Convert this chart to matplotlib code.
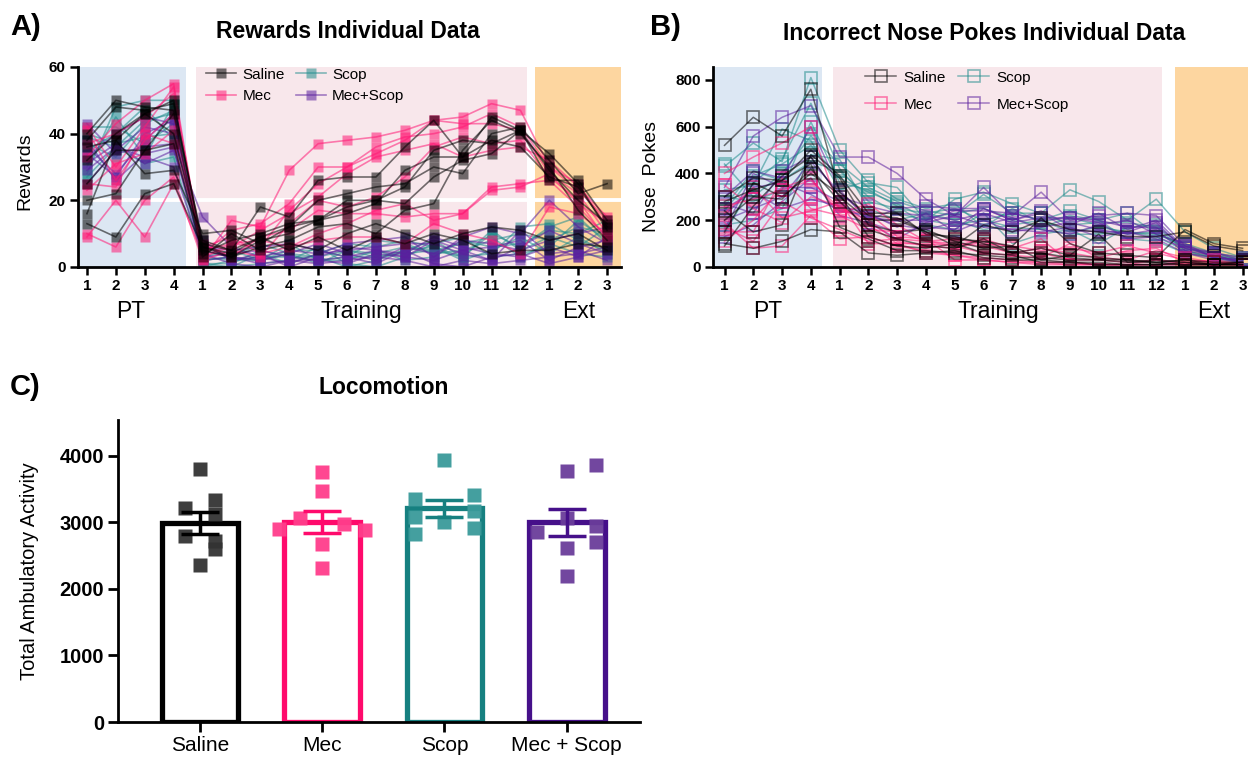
import numpy as np
import matplotlib
matplotlib.use("Agg")
import matplotlib.pyplot as plt
from matplotlib import transforms

plt.rcParams['font.family'] = ['Liberation Sans', 'DejaVu Sans']

# ---------------- DATA ----------------
groups = ["Saline", "Mec", "Scop", "Mec+Scop"]
session_labels = ["1", "2", "3", "4",
                  "1", "2", "3", "4", "5", "6", "7", "8", "9", "10", "11", "12",
                  "1", "2", "3"]
phase_names = ["PT", "Training", "Ext"]

rewards_saline = [
    [40, 50, 48, 47, 8, 5, 18, 15, 26, 27, 27, 36, 44, 33, 45, 41, 34, 25, 11],
    [13, 9, 22, 25, 6, 3, 8, 10, 14, 20, 20, 24, 35, 38, 37, 41, 29, 20, 13],
    [16, 38, 28, 29, 10, 11, 7, 12, 20, 22, 24, 25, 30, 28, 40, 42, 32, 22, 25],
    [20, 22, 35, 37, 4, 8, 10, 13, 14, 18, 20, 19, 27, 32, 34, 41, 26, 26, 14],
    [38, 48, 47, 49, 7, 5, 9, 5, 9, 5, 9, 7, 10, 8, 4, 5, 5, 7, 6],
    [32, 40, 46, 50, 5, 3, 6, 8, 12, 13, 10, 17, 19, 35, 44, 40, 30, 17, 8],
    [25, 35, 35, 46, 3, 10, 5, 7, 5, 10, 13, 10, 7, 10, 12, 11, 8, 10, 5],
    [36, 38, 46, 40, 6, 4, 9, 12, 14, 16, 19, 29, 33, 33, 38, 36, 27, 24, 12],
]
rewards_mec = [
    [10, 6, 20, 27, 2, 14, 12, 29, 37, 38, 39, 41, 44, 45, 49, 47, 30, 23, 14],
    [9, 20, 9, 25, 4, 11, 13, 19, 30, 30, 34, 38, 44, 43, 43, 41, 28, 22, 10],
    [33, 43, 50, 55, 3, 7, 6, 17, 25, 30, 36, 39, 40, 42, 46, 42, 30, 25, 12],
    [42, 30, 42, 54, 2, 5, 3, 13, 20, 18, 21, 27, 36, 39, 37, 38, 27, 20, 8],
    [25, 24, 40, 37, 7, 3, 9, 11, 17, 16, 16, 15, 16, 16, 24, 25, 26, 18, 9],
    [37, 40, 45, 52, 5, 7, 8, 6, 10, 13, 17, 19, 14, 16, 23, 24, 28, 19, 13],
    [23, 31, 34, 41, 6, 9, 4, 6, 8, 9, 9, 7, 13, 10, 8, 4, 18, 16, 10],
    [41, 26, 38, 46, 3, 6, 11, 16, 21, 28, 33, 35, 37, 33, 35, 36, 32, 24, 15],
]
rewards_scop = [
    [28, 48, 50, 50, 0, 2, 3, 3, 3, 0, 2, 5, 6, 3, 10, 6, 12, 15, 7],
    [39, 36, 31, 33, 2, 3, 2, 5, 5, 3, 8, 7, 4, 5, 8, 10, 8, 12, 10],
    [42, 42, 37, 43, 1, 1, 5, 3, 2, 3, 3, 5, 8, 3, 4, 12, 13, 8, 5],
    [35, 40, 48, 38, 3, 5, 2, 7, 2, 2, 5, 2, 3, 8, 6, 7, 11, 10, 14],
    [27, 36, 44, 46, 0, 0, 1, 2, 6, 1, 0, 3, 7, 9, 3, 4, 6, 14, 8],
    [30, 45, 33, 49, 2, 3, 7, 4, 3, 5, 3, 4, 5, 3, 11, 5, 9, 6, 12],
    [37, 33, 43, 47, 1, 0, 4, 1, 4, 7, 6, 8, 6, 2, 5, 9, 4, 9, 4],
    [40, 37, 39, 40, 3, 2, 2, 4, 1, 5, 4, 6, 5, 7, 9, 3, 7, 4, 3],
]
rewards_mecscop = [
    [43, 34, 36, 37, 15, 6, 3, 5, 4, 7, 8, 9, 3, 9, 12, 10, 20, 12, 7],
    [34, 27, 40, 44, 7, 2, 3, 1, 4, 5, 6, 7, 7, 4, 2, 11, 4, 5, 2],
    [29, 36, 33, 30, 4, 1, 0, 2, 2, 3, 1, 5, 1, 0, 3, 4, 1, 3, 5],
    [33, 40, 45, 43, 5, 3, 2, 4, 7, 4, 2, 6, 4, 8, 7, 5, 8, 10, 12],
    [38, 26, 34, 36, 3, 4, 5, 3, 2, 1, 4, 3, 8, 5, 2, 6, 11, 7, 4],
    [25, 35, 42, 40, 6, 5, 6, 7, 5, 3, 5, 4, 9, 6, 4, 3, 6, 3, 9],
    [36, 28, 38, 46, 2, 3, 1, 2, 1, 2, 3, 2, 0, 2, 1, 2, 3, 4, 6],
    [31, 37, 31, 35, 8, 2, 4, 0, 3, 6, 5, 3, 2, 5, 6, 8, 2, 6, 8],
]

pokes_saline = [
    [520, 640, 560, 760, 320, 220, 210, 150, 120, 110, 90, 210, 100, 60, 50, 40, 160, 100, 80],
    [100, 80, 110, 160, 150, 60, 50, 60, 70, 40, 30, 30, 20, 20, 10, 10, 20, 10, 10],
    [300, 380, 370, 500, 390, 230, 230, 140, 130, 100, 60, 60, 40, 30, 30, 20, 30, 20, 20],
    [240, 150, 180, 480, 380, 180, 150, 160, 110, 80, 90, 30, 50, 140, 20, 20, 10, 10, 10],
    [90, 260, 390, 470, 300, 200, 200, 150, 90, 180, 150, 200, 160, 150, 130, 130, 150, 90, 70],
    [280, 330, 370, 440, 170, 120, 70, 70, 60, 50, 40, 40, 30, 30, 20, 30, 20, 10, 20],
    [150, 360, 300, 400, 310, 130, 90, 80, 100, 60, 50, 20, 20, 10, 10, 10, 10, 10, 10],
    [200, 300, 290, 420, 280, 160, 120, 90, 80, 120, 60, 80, 50, 40, 30, 20, 30, 10, 20],
]
pokes_mec = [
    [400, 470, 530, 600, 240, 230, 130, 120, 30, 30, 20, 20, 10, 10, 10, 10, 10, 10, 10],
    [190, 80, 90, 220, 120, 130, 90, 70, 50, 40, 30, 20, 20, 10, 10, 10, 20, 10, 10],
    [110, 200, 340, 380, 230, 270, 180, 110, 100, 90, 60, 80, 60, 40, 30, 70, 40, 20, 10],
    [230, 340, 210, 240, 280, 100, 100, 60, 50, 30, 20, 10, 10, 10, 10, 10, 10, 10, 10],
    [150, 150, 380, 250, 220, 160, 150, 110, 120, 100, 90, 70, 80, 60, 90, 60, 30, 20, 10],
    [260, 290, 330, 370, 250, 200, 110, 90, 80, 110, 60, 60, 30, 30, 20, 30, 20, 10, 20],
    [170, 110, 280, 210, 160, 110, 120, 110, 90, 60, 50, 40, 100, 40, 70, 80, 20, 30, 10],
    [350, 250, 190, 300, 260, 180, 100, 100, 90, 120, 80, 120, 20, 10, 10, 30, 10, 20, 10],
]
pokes_scop = [
    [430, 530, 450, 810, 500, 360, 340, 200, 290, 320, 270, 230, 330, 280, 200, 290, 150, 80, 40],
    [440, 300, 400, 560, 440, 340, 280, 240, 220, 310, 230, 200, 240, 200, 230, 140, 90, 50, 30],
    [140, 360, 460, 700, 420, 280, 250, 230, 250, 200, 230, 230, 180, 190, 190, 170, 70, 40, 20],
    [330, 350, 590, 540, 330, 370, 290, 250, 270, 170, 250, 190, 220, 200, 120, 110, 60, 40, 30],
    [180, 200, 250, 480, 460, 250, 200, 230, 200, 160, 180, 200, 150, 170, 150, 140, 100, 60, 40],
    [300, 280, 330, 620, 360, 330, 260, 180, 160, 230, 100, 140, 160, 100, 170, 180, 80, 60, 30],
    [260, 410, 370, 450, 410, 300, 230, 200, 180, 200, 170, 160, 140, 140, 150, 130, 70, 40, 20],
    [240, 390, 440, 520, 380, 320, 270, 210, 230, 250, 210, 170, 210, 180, 140, 150, 80, 50, 30],
]
pokes_mecscop = [
    [340, 560, 640, 690, 470, 470, 400, 290, 220, 340, 220, 320, 200, 220, 230, 220, 90, 60, 30],
    [300, 410, 380, 600, 330, 200, 250, 260, 250, 250, 200, 240, 180, 230, 160, 200, 80, 50, 20],
    [200, 250, 300, 450, 320, 210, 200, 200, 240, 240, 230, 200, 210, 200, 170, 170, 90, 40, 30],
    [160, 400, 340, 340, 280, 190, 150, 170, 160, 250, 200, 230, 160, 150, 150, 190, 70, 50, 20],
    [250, 320, 250, 290, 260, 230, 170, 230, 150, 200, 150, 170, 190, 160, 140, 160, 60, 30, 20],
    [130, 180, 280, 380, 220, 190, 120, 190, 220, 180, 210, 160, 140, 180, 200, 140, 100, 40, 30],
    [270, 230, 410, 470, 300, 260, 230, 220, 200, 230, 190, 210, 210, 190, 120, 130, 80, 60, 40],
    [220, 340, 360, 310, 240, 220, 180, 160, 190, 170, 160, 150, 170, 130, 150, 120, 60, 40, 20],
]

loco_groups = ["Saline", "Mec", "Scop", "Mec + Scop"]
loco_saline = [3800, 3220, 3340, 3120, 2800, 2720, 2600, 2360]
loco_mec = [3760, 3480, 3060, 2900, 2980, 2880, 2680, 2310]
loco_scop = [3940, 3350, 3420, 3170, 3080, 3000, 2920, 2830]
loco_mecscop = [3780, 3860, 3060, 2950, 2860, 2700, 2620, 2190]

# ---------------- STYLE ----------------
line_colors = {"Saline": "#000000", "Mec": "#ff1a75", "Scop": "#1f8c8c", "Mec+Scop": "#5a1f9e"}
bar_edge = ["#000000", "#ff0a6c", "#168080", "#46108a"]
dot_col = ["#333333", "#ff3d8b", "#3a9a9a", "#6a3d9a"]
bg_pt = "#dce7f3"
bg_train = "#f8e7eb"
bg_ext = "#fdd6a0"

W, H = 1248, 763
fig = plt.figure(figsize=(W / 100, H / 100), dpi=100)


def px_axes(l, r, t, b):
    return fig.add_axes([l / W, 1 - b / H, (r - l) / W, (b - t) / H])


n_sess = len(session_labels)
xs = np.arange(n_sess)


def setup_timecourse(ax, xlim, ylim, yticks, ylabel, spans, label_y,
                     white_gap=None):
    ax.set_xlim(*xlim)
    ax.set_ylim(*ylim)
    (b0, b1), (p0, p1), (o0, o1) = spans
    ax.axvspan(b0, b1, color=bg_pt, lw=0, zorder=0)
    ax.axvspan(p0, p1, color=bg_train, lw=0, zorder=0)
    ax.axvspan(o0, o1, color=bg_ext, lw=0, zorder=0)
    if white_gap is not None:
        ax.axhline(white_gap, color="white", lw=2.8, zorder=0.5)
    for s in ["top", "right"]:
        ax.spines[s].set_visible(False)
    for s in ["left", "bottom"]:
        ax.spines[s].set_linewidth(2.0)
    ax.set_xticks(xs)
    ax.set_xticklabels(session_labels, fontsize=11, fontweight="bold")
    ax.set_yticks(yticks)
    ax.set_yticklabels([str(v) for v in yticks], fontsize=11, fontweight="bold")
    ax.tick_params(axis="both", direction="out", length=6, width=1.8, pad=3)
    ax.set_ylabel(ylabel, fontsize=14)
    ax.yaxis.set_label_coords(label_y[0], label_y[1])
    trans = transforms.blended_transform_factory(ax.transData, ax.transAxes)
    for name, xc in zip(phase_names, [1.5, 9.5, 17.0]):
        ax.text(xc, -0.225, name, transform=trans, ha="center", va="center",
                fontsize=16.5)


# ---------------- PANEL A ----------------
axA = px_axes(78, 621, 67, 267)
setup_timecourse(axA, (-0.31, 18.48), (0, 60), [0, 20, 40, 60], "Rewards",
                 [(-0.31, 3.43), (3.77, 15.22), (15.5, 18.48)],
                 label_y=(-0.082, 0.48), white_gap=20)
rew = {"Saline": rewards_saline, "Mec": rewards_mec, "Scop": rewards_scop,
       "Mec+Scop": rewards_mecscop}
for g in ["Scop", "Mec+Scop", "Mec", "Saline"]:
    for i, row in enumerate(rew[g]):
        axA.plot(xs, row, color=line_colors[g], lw=1.2, alpha=0.55,
                 marker="s", ms=7, mec="none", mfc=line_colors[g], zorder=2,
                 label=g if i == 0 else None)
hA, lA = axA.get_legend_handles_labels()
order = [lA.index(n) for n in ["Saline", "Mec", "Scop", "Mec+Scop"]]
axA.legend([hA[k] for k in order], [lA[k] for k in order], ncol=2,
           loc="upper left", bbox_to_anchor=(0.21, 1.065), frameon=False,
           fontsize=11, handlelength=2.0, columnspacing=0.7,
           handletextpad=0.4, labelspacing=0.5)
fig.text(10 / W, 1 - 27 / H, "A)", fontsize=21, fontweight="bold", va="center")
fig.text(348 / W, 1 - 32 / H, "Rewards Individual Data", fontsize=16.5,
         fontweight="bold", ha="center", va="center")

# ---------------- PANEL B ----------------
axB = px_axes(713, 1257, 67, 267)
setup_timecourse(axB, (-0.40, 18.5), (0, 855), [0, 200, 400, 600, 800],
                 "Nose  Pokes",
                 [(-0.40, 3.40), (3.78, 15.2), (15.66, 18.5)],
                 label_y=(-0.097, 0.45))
pok = {"Saline": pokes_saline, "Mec": pokes_mec, "Scop": pokes_scop,
       "Mec+Scop": pokes_mecscop}
for g in ["Scop", "Mec+Scop", "Mec", "Saline"]:
    for i, row in enumerate(pok[g]):
        axB.plot(xs, row, color=line_colors[g], lw=1.1, alpha=0.55,
                 marker="s", ms=8.5, mfc="none", mec=line_colors[g], mew=1.2,
                 zorder=2, label=g if i == 0 else None)
hB, lB = axB.get_legend_handles_labels()
order = [lB.index(n) for n in ["Saline", "Mec", "Scop", "Mec+Scop"]]
axB.legend([hB[k] for k in order], [lB[k] for k in order], ncol=2,
           loc="upper left", bbox_to_anchor=(0.255, 1.05), frameon=False,
           fontsize=11, handlelength=2.0, columnspacing=0.8,
           handletextpad=0.5, labelspacing=0.85)
fig.text(650 / W, 1 - 27 / H, "B)", fontsize=21, fontweight="bold", va="center")
fig.text(984 / W, 1 - 33 / H, "Incorrect Nose Pokes Individual Data",
         fontsize=16.5, fontweight="bold", ha="center", va="center")

# ---------------- PANEL C ----------------
axC = px_axes(118, 640, 420, 722)
loco = [loco_saline, loco_mec, loco_scop, loco_mecscop]
pos = np.arange(len(loco_groups))
means = [np.mean(v) for v in loco]
sems = [np.std(v, ddof=1) / np.sqrt(len(v)) for v in loco]
axC.bar(pos, means, width=0.62, facecolor="white", edgecolor=bar_edge,
        linewidth=3.8, zorder=2)
jit = [
    [0.0, -0.12, 0.12, 0.12, -0.12, 0.12, 0.12, 0.0],
    [0.0, 0.0, -0.18, -0.35, 0.18, 0.35, 0.0, 0.0],
    [0.0, -0.24, 0.24, 0.24, -0.24, 0.0, 0.24, -0.24],
    [0.0, 0.24, 0.0, 0.24, -0.24, 0.24, 0.0, 0.0],
]
for k, vals in enumerate(loco):
    axC.plot(pos[k] + np.array(jit[k]), vals, linestyle="none", marker="s",
             ms=10, mfc=dot_col[k], mec="none", alpha=0.95, zorder=3)
    axC.errorbar(pos[k], means[k], yerr=sems[k], color=bar_edge[k],
                 capsize=14, capthick=2.5, elinewidth=2.5, zorder=4)
axC.set_xlim(-0.67, 3.6)
axC.set_ylim(0, 4540)
axC.set_yticks([0, 1000, 2000, 3000, 4000])
axC.set_yticklabels(["0", "1000", "2000", "3000", "4000"], fontsize=14.5,
                    fontweight="bold")
axC.set_xticks(pos)
axC.set_xticklabels(loco_groups, fontsize=15)
for s in ["top", "right"]:
    axC.spines[s].set_visible(False)
for s in ["left", "bottom"]:
    axC.spines[s].set_linewidth(2.0)
axC.tick_params(axis="both", direction="out", length=7, width=2, pad=3)
axC.set_ylabel("Total Ambulatory Activity", fontsize=14.5)
axC.yaxis.set_label_coords(-0.152, 0.5)
fig.text(10 / W, 1 - 387 / H, "C)", fontsize=21, fontweight="bold", va="center")
fig.text(384 / W, 1 - 387 / H, "Locomotion", fontsize=16.5, fontweight="bold",
         ha="center", va="center")

fig.savefig("out.png", dpi=100)
